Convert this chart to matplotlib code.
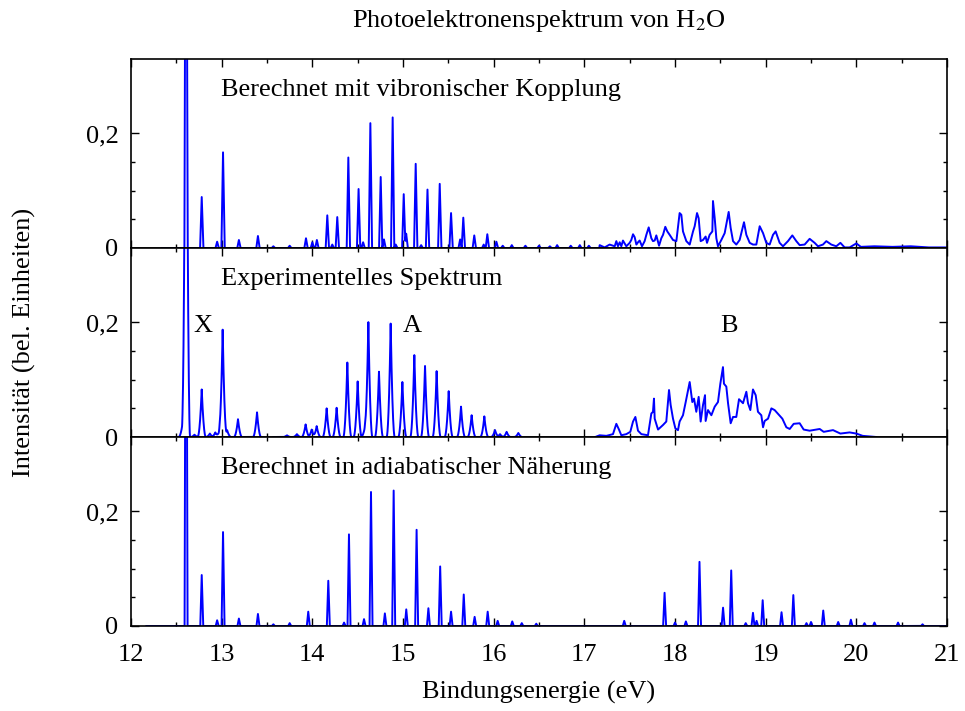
import numpy as np
import matplotlib
matplotlib.use("Agg")
import matplotlib.pyplot as plt
from matplotlib.ticker import MultipleLocator, FixedLocator

plt.rcParams['font.family'] = ['Liberation Serif', 'DejaVu Serif']
plt.rcParams['mathtext.fontset'] = 'stix'

# ---------------- data ----------------
# Panel 1: calculated with vibronic coupling (stick peaks of X and A bands)
vib_peak_pos = [12.607, 12.78, 12.95, 13.015, 13.19, 13.40, 13.57, 13.75, 13.93, 14.00,
                14.05, 14.165, 14.22, 14.275, 14.397, 14.51, 14.56, 14.64, 14.754, 14.79,
                14.886, 14.92, 15.008, 15.035, 15.14, 15.20, 15.27, 15.405, 15.53, 15.63,
                15.665, 15.786, 15.89, 15.93, 16.03, 16.10, 16.20, 16.35, 16.50, 16.62,
                16.70, 16.85, 16.95, 17.05]
vib_peak_int = [1.0, 0.089, 0.011, 0.167, 0.014, 0.021, 0.003, 0.004, 0.017, 0.010,
                0.014, 0.057, 0.006, 0.054, 0.158, 0.103, 0.010, 0.218, 0.124, 0.015,
                0.228, 0.006, 0.094, 0.025, 0.147, 0.005, 0.102, 0.112, 0.061, 0.015,
                0.053, 0.022, 0.006, 0.024, 0.011, 0.004, 0.005, 0.004, 0.004, 0.003,
                0.005, 0.004, 0.005, 0.004]
# Panel 1: B band (dense, drawn as a line)
vib_b_energy = [17.169, 17.224, 17.279, 17.335, 17.353, 17.371, 17.390, 17.408, 17.426, 17.463,
                17.500, 17.518, 17.537, 17.555, 17.574, 17.592, 17.610, 17.636, 17.665, 17.684,
                17.710, 17.739, 17.757, 17.776, 17.794, 17.824, 17.849, 17.868, 17.893, 17.915,
                17.941, 17.978, 18.015, 18.051, 18.070, 18.088, 18.125, 18.162, 18.199, 18.217,
                18.243, 18.261, 18.283, 18.309, 18.338, 18.353, 18.382, 18.412, 18.419, 18.438,
                18.456, 18.474, 18.511, 18.548, 18.592, 18.614, 18.640, 18.676, 18.713, 18.761,
                18.787, 18.824, 18.860, 18.897, 18.934, 18.971, 19.007, 19.044, 19.081, 19.110,
                19.154, 19.191, 19.246, 19.294, 19.338, 19.375, 19.430, 19.485, 19.540, 19.577,
                19.632, 19.669, 19.724, 19.779, 19.824, 19.871, 19.926, 20.00, 20.05, 20.20,
                20.40, 20.60, 20.80, 21.00]
vib_b_int = [0.005, 0.001, 0.006, 0.003, 0.012, 0.003, 0.010, 0.003, 0.013, 0.003,
             0.009, 0.014, 0.024, 0.019, 0.006, 0.010, 0.013, 0.003, 0.012, 0.023,
             0.036, 0.017, 0.012, 0.013, 0.022, 0.004, 0.017, 0.023, 0.037, 0.029,
             0.023, 0.014, 0.012, 0.061, 0.058, 0.029, 0.012, 0.006, 0.029, 0.038,
             0.061, 0.052, 0.012, 0.014, 0.020, 0.009, 0.023, 0.029, 0.082, 0.052,
             0.017, 0.003, 0.014, 0.026, 0.063, 0.035, 0.012, 0.006, 0.014, 0.045,
             0.023, 0.009, 0.006, 0.006, 0.038, 0.026, 0.009, 0.006, 0.023, 0.029,
             0.009, 0.003, 0.012, 0.022, 0.012, 0.005, 0.006, 0.016, 0.009, 0.003,
             0.006, 0.012, 0.006, 0.003, 0.009, 0.001, 0.001, 0.008, 0.002, 0.003,
             0.002, 0.003, 0.001, 0.001]

# Panel 2: experimental spectrum
# X band peaks (measured 12.50 - 13.44 eV)
exp_x_pos = [12.57, 12.607, 12.70, 12.78, 12.87, 12.93, 12.975, 13.011, 13.06, 13.18, 13.39]
exp_x_int = [0.025, 1.0, 0.004, 0.083, 0.006, 0.008, 0.010, 0.187, 0.012, 0.031, 0.043]
# A band peaks (measured 13.57 - 16.30 eV)
exp_a_pos = [13.72, 13.83, 13.926, 13.993, 14.048, 14.158, 14.268, 14.386, 14.50, 14.581,
             14.618, 14.735, 14.864, 14.993, 15.125, 15.243, 15.371, 15.504, 15.64, 15.757,
             15.897, 16.015, 16.07, 16.143, 16.272]
exp_a_int = [0.003, 0.005, 0.022, 0.013, 0.019, 0.050, 0.051, 0.130, 0.097, 0.018,
             0.200, 0.114, 0.198, 0.096, 0.143, 0.124, 0.115, 0.080, 0.053, 0.038,
             0.036, 0.012, 0.005, 0.009, 0.007]
# B band (measured as a line, 17.12 - 20.22 eV)
exp_b_energy = [17.120, 17.169, 17.243, 17.316, 17.353, 17.382, 17.408, 17.463, 17.507, 17.537,
                17.563, 17.592, 17.629, 17.702, 17.739, 17.757, 17.768, 17.776, 17.813, 17.868,
                17.904, 17.934, 17.952, 17.978, 18.004, 18.033, 18.051, 18.088, 18.118, 18.162,
                18.191, 18.210, 18.235, 18.261, 18.283, 18.309, 18.331, 18.338, 18.364, 18.401,
                18.438, 18.474, 18.500, 18.529, 18.540, 18.566, 18.585, 18.614, 18.640, 18.676,
                18.706, 18.750, 18.787, 18.805, 18.831, 18.860, 18.890, 18.915, 18.952, 18.971,
                18.989, 19.026, 19.063, 19.099, 19.184, 19.228, 19.265, 19.309, 19.375, 19.419,
                19.485, 19.596, 19.640, 19.743, 19.824, 19.926, 20.000, 20.070, 20.220]
exp_b_int = [0.000, 0.003, 0.002, 0.005, 0.023, 0.013, 0.003, 0.005, 0.009, 0.027,
             0.035, 0.011, 0.005, 0.003, 0.041, 0.044, 0.067, 0.032, 0.013, 0.021,
             0.027, 0.082, 0.056, 0.032, 0.015, 0.012, 0.027, 0.038, 0.061, 0.096,
             0.061, 0.067, 0.044, 0.070, 0.027, 0.056, 0.073, 0.028, 0.047, 0.038,
             0.053, 0.061, 0.093, 0.122, 0.093, 0.088, 0.059, 0.024, 0.035, 0.035,
             0.066, 0.059, 0.079, 0.059, 0.047, 0.083, 0.073, 0.044, 0.038, 0.017,
             0.028, 0.032, 0.050, 0.047, 0.032, 0.017, 0.014, 0.023, 0.024, 0.013,
             0.011, 0.014, 0.009, 0.012, 0.006, 0.008, 0.006, 0.002, 0.000]
exp_band_labels = ['X', 'A', 'B']
exp_band_x = [12.792, 15.099, 18.595]

# Panel 3: adiabatic approximation (stick peaks)
adia_peak_pos = [12.607, 12.78, 12.95, 13.015, 13.19, 13.40, 13.57, 13.75, 13.955, 14.176,
                 14.35, 14.404, 14.57, 14.647, 14.80, 14.897, 15.036, 15.15, 15.28, 15.41,
                 15.53, 15.67, 15.79, 15.934, 16.044, 16.205, 16.31, 16.47, 17.44, 17.885,
                 18.00, 18.12, 18.27, 18.53, 18.62, 18.78, 18.86, 18.90, 18.967, 19.175,
                 19.305, 19.45, 19.50, 19.635, 19.80, 19.94, 20.09, 20.20, 20.46, 20.73]
adia_peak_int = [1.0, 0.089, 0.010, 0.164, 0.013, 0.021, 0.003, 0.005, 0.025, 0.079,
                 0.006, 0.160, 0.012, 0.234, 0.022, 0.2365, 0.029, 0.168, 0.031, 0.104,
                 0.025, 0.055, 0.016, 0.025, 0.009, 0.008, 0.005, 0.004, 0.009, 0.058,
                 0.006, 0.008, 0.112, 0.032, 0.097, 0.005, 0.023, 0.009, 0.045, 0.024,
                 0.054, 0.005, 0.007, 0.027, 0.007, 0.011, 0.005, 0.006, 0.006, 0.003]

panel_titles = ['Berechnet mit vibronischer Kopplung',
                'Experimentelles Spektrum',
                'Berechnet in adiabatischer Näherung']


def stick_line(pos, inten, x0, x1, hw, power=1.0):
    grid = np.arange(x0, x1 + 1e-9, 0.001)
    p = np.asarray(pos)
    p = p[(p >= x0) & (p <= x1)]
    x = np.union1d(grid, p)
    y = np.zeros_like(x)
    for c, h in zip(pos, inten):
        y += h * np.clip(1.0 - np.abs(x - c) / hw, 0.0, None) ** power
    return x, y


# ---------------- figure ----------------
fig = plt.figure(figsize=(9.65, 7.11), dpi=100)
L, W = 131 / 965, 816 / 965
H = 189 / 711
bottoms = [1 - 248 / 711, 1 - 437 / 711, 1 - 626 / 711]
axes = [fig.add_axes([L, b, W, H]) for b in bottoms]

blue = '#0000ff'
lw = 1.4
FS = 19

# panel 1
x1, y1 = stick_line(vib_peak_pos, vib_peak_int, 12.34, 17.165, 0.018)
x1 = np.concatenate([x1, vib_b_energy])
y1 = np.concatenate([y1, vib_b_int])
axes[0].plot(x1, y1, color=blue, lw=lw)

# panel 2
xa, ya = stick_line(exp_x_pos, exp_x_int, 12.50, 13.44, 0.045, power=2)
xb, yb = stick_line(exp_a_pos, exp_a_int, 13.57, 16.30, 0.045, power=2)
x2 = np.concatenate([xa, [np.nan], xb, [np.nan], exp_b_energy])
y2 = np.concatenate([ya, [np.nan], yb, [np.nan], exp_b_int])
axes[1].plot(x2, y2, color=blue, lw=lw)
for lab, xx in zip(exp_band_labels, exp_band_x):
    axes[1].text(xx, 0.183, lab, ha='center', va='baseline', fontsize=FS)

# panel 3
x3, y3 = stick_line(adia_peak_pos, adia_peak_int, 12.17, 21.0, 0.016)
axes[2].plot(x3, y3, color=blue, lw=lw)

for i, ax in enumerate(axes):
    ax.set_xlim(12, 21)
    ax.set_ylim(0, 0.33)
    ax.xaxis.set_major_locator(MultipleLocator(1))
    ax.xaxis.set_minor_locator(MultipleLocator(0.5))
    ax.yaxis.set_major_locator(FixedLocator([0, 0.2]))
    ax.yaxis.set_minor_locator(FixedLocator([0.05, 0.1, 0.15]))
    ax.set_yticklabels(['0', '0,2'])
    ax.tick_params(which='both', direction='in', top=True, right=True,
                   labelsize=FS, width=1.0, colors='black')
    ax.tick_params(which='major', length=6)
    ax.tick_params(which='minor', length=3)
    ax.tick_params(axis='y', pad=9)
    ax.tick_params(axis='x', pad=13)
    if i < 2:
        ax.tick_params(labelbottom=False)
    for s in ax.spines.values():
        s.set_linewidth(1.2)
    ax.text(0.110, 0.802, panel_titles[i], transform=ax.transAxes,
            ha='left', va='baseline', fontsize=FS)

fig.text(539 / 965, 1 - 26.7 / 711, r'Photoelektronenspektrum von H$_{\rm 2}$O',
         ha='center', va='baseline', fontsize=FS)
fig.text(539 / 965, 1 - 699 / 711, 'Bindungsenergie (eV)',
         ha='center', va='baseline', fontsize=FS)
fig.text(24 / 965, 1 - 342 / 711, 'Intensität (bel. Einheiten)',
         ha='center', va='center', rotation=90, fontsize=FS)

fig.savefig('out.png', dpi=100)
